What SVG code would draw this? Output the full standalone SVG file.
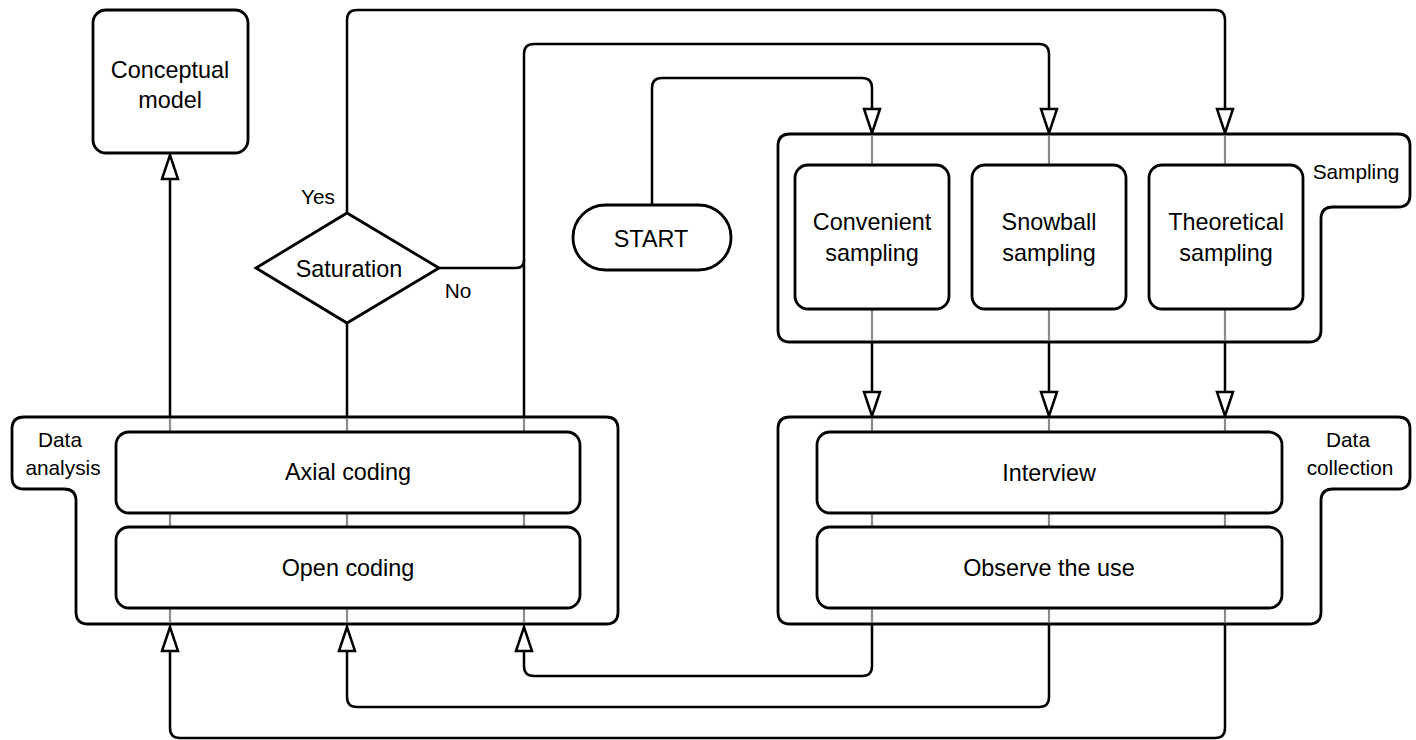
<svg xmlns="http://www.w3.org/2000/svg" width="1416" height="740" viewBox="0 0 1416 740">
<defs>
<style>
.box{fill:#fff;stroke:#000;stroke-width:2.8}
.cont{fill:#fff;stroke:#000;stroke-width:2.8}
.gray{stroke:#8c8c8c;stroke-width:2.2;fill:none}
.con{fill:none;stroke:#000;stroke-width:2.5}
.t{font-family:"Liberation Sans",Arial,Helvetica,sans-serif;font-size:23.4px;fill:#000;text-anchor:middle}
.l{font-family:"Liberation Sans",Arial,Helvetica,sans-serif;font-size:20.8px;fill:#000;text-anchor:middle}
</style>
<marker id="arr" viewBox="-2 -2 28 20" refX="0" refY="8" markerWidth="28" markerHeight="20" markerUnits="userSpaceOnUse" orient="auto">
<path d="M0,0 L24,8 L0,16 Z" fill="#fff" stroke="#000" stroke-width="2.5" stroke-linejoin="miter"/>
</marker>
</defs>
<rect width="1416" height="740" fill="#fff"/>

<g id="sampling">
<path class="cont" d="M790,134 H1398 Q1410,134 1410,146 V195 Q1410,207 1398,207 H1333 Q1321,207 1321,219 V330 Q1321,342 1309,342 H790 Q778,342 778,330 V146 Q778,134 790,134 Z"/>
<text class="l" x="1356" y="179">Sampling</text>
</g>
<g id="data-analysis">
<path class="cont" d="M24,417 H606 Q618,417 618,429 V612 Q618,624 606,624 H88 Q76,624 76,612 V501 Q76,489 64,489 H24 Q12,489 12,477 V429 Q12,417 24,417 Z"/>
<text class="l" x="60" y="447">Data</text>
<text class="l" x="63" y="475">analysis</text>
</g>
<g id="data-collection">
<path class="cont" d="M790,417 H1398 Q1410,417 1410,429 V477 Q1410,489 1398,489 H1333 Q1321,489 1321,501 V612 Q1321,624 1309,624 H790 Q778,624 778,612 V429 Q778,417 790,417 Z"/>
<text class="l" x="1348" y="447">Data</text>
<text class="l" x="1350" y="475">collection</text>
</g>

<g id="pass-through" class="gray">
<path d="M872,136 V340 M1049,136 V340 M1225,136 V340"/>
<path d="M872,419 V622 M1049,419 V622 M1225,419 V622"/>
<path d="M170,419 V622 M347,419 V622 M524,419 V622"/>
</g>

<g id="conceptual-model">
<rect class="box" x="93" y="10" width="155" height="143" rx="13"/>
<text class="t" x="170" y="78">Conceptual</text>
<text class="t" x="170" y="108">model</text>
</g>
<g id="saturation">
<polygon class="box" points="256,268 347,213 439,268 347,323"/>
<text class="t" x="349" y="277">Saturation</text>
</g>
<g id="start">
<rect class="box" x="573" y="205" width="158" height="65" rx="32.5"/>
<text class="t" x="651" y="247">START</text>
</g>
<g id="convenient">
<rect class="box" x="795" y="165" width="154" height="144" rx="13"/>
<text class="t" x="872" y="230">Convenient</text>
<text class="t" x="872" y="261">sampling</text>
</g>
<g id="snowball">
<rect class="box" x="972" y="165" width="154" height="144" rx="13"/>
<text class="t" x="1049" y="230">Snowball</text>
<text class="t" x="1049" y="261">sampling</text>
</g>
<g id="theoretical">
<rect class="box" x="1149" y="165" width="154" height="144" rx="13"/>
<text class="t" x="1226" y="230">Theoretical</text>
<text class="t" x="1226" y="261">sampling</text>
</g>
<g id="axial-coding">
<rect class="box" x="116" y="432" width="464" height="81" rx="13"/>
<text class="t" x="348" y="480">Axial coding</text>
</g>
<g id="open-coding">
<rect class="box" x="116" y="527" width="464" height="81" rx="13"/>
<text class="t" x="348" y="576">Open coding</text>
</g>
<g id="interview">
<rect class="box" x="817" y="432" width="465" height="81" rx="13"/>
<text class="t" x="1049" y="481">Interview</text>
</g>
<g id="observe">
<rect class="box" x="817" y="527" width="465" height="81" rx="13"/>
<text class="t" x="1049" y="576">Observe the use</text>
</g>

<g id="connectors" class="con">
<path d="M170,417 V179" marker-end="url(#arr)"/>
<path d="M347,213 V20 Q347,10 357,10 H1215 Q1225,10 1225,20 V109" marker-end="url(#arr)"/>
<path d="M347,417 V323"/>
<path d="M524,417 V54 Q524,44 534,44 H1039 Q1049,44 1049,54 V109" marker-end="url(#arr)"/>
<path d="M439,268 H516 Q524,268 524,260"/>
<path d="M652,205 V88 Q652,78 662,78 H862 Q872,78 872,88 V109" marker-end="url(#arr)"/>
<path d="M872,342 V392" marker-end="url(#arr)"/>
<path d="M1049,342 V392" marker-end="url(#arr)"/>
<path d="M1225,342 V392" marker-end="url(#arr)"/>
<path d="M872,624 V666 Q872,676 862,676 H534 Q524,676 524,666 V651" marker-end="url(#arr)"/>
<path d="M1049,624 V697 Q1049,707 1039,707 H357 Q347,707 347,697 V651" marker-end="url(#arr)"/>
<path d="M1225,624 V728 Q1225,738 1215,738 H180 Q170,738 170,728 V651" marker-end="url(#arr)"/>
</g>
<g id="edge-labels">
<text class="l" x="318" y="204">Yes</text>
<text class="l" x="458" y="298">No</text>
</g>
</svg>
